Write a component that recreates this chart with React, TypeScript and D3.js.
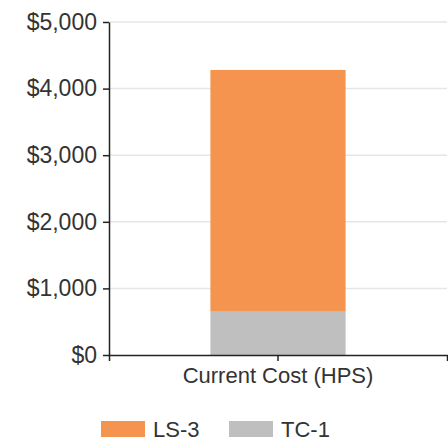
import * as d3 from 'd3';
import React, { useEffect, useRef } from 'react';

const categories = ['Current Cost (HPS)'];
const seriesNames = ['TC-1', 'LS-3'];
const tc1Values = [650];
const ls3Values = [3630];
const yTicks = [0, 1000, 2000, 3000, 4000, 5000];
const legendOrder = ['LS-3', 'TC-1'];

const colors: Record<string, string> = { 'LS-3': '#f4944f', 'TC-1': '#bfbfbf' };

const W = 448;
const H = 442;

const App: React.FC = () => {
  const ref = useRef<SVGSVGElement | null>(null);

  useEffect(() => {
    const svg = d3.select(ref.current);
    svg.selectAll('*').remove();
    const margin = { top: 22, right: 1, bottom: 87, left: 109 };
    const innerW = W - margin.left - margin.right;
    const innerH = H - margin.top - margin.bottom;

    const rows = categories.map((c, i) => ({ cat: c, 'TC-1': tc1Values[i], 'LS-3': ls3Values[i] }));
    const stacked = d3.stack<any>().keys(seriesNames)(rows);

    const x = d3.scaleBand().domain(categories).range([0, innerW]).paddingInner(0).paddingOuter(0.75);
    const xAxisScale = d3.scaleBand().domain(categories).range([0, innerW]).padding(0);
    const y = d3.scaleLinear().domain([0, 5000]).range([innerH, 0]);

    const g = svg.append('g').attr('transform', `translate(${margin.left},${margin.top})`);

    // gridlines
    g.append('g')
      .selectAll('line')
      .data(yTicks.slice(1))
      .enter()
      .append('line')
      .attr('x1', 0)
      .attr('x2', innerW)
      .attr('y1', d => y(d))
      .attr('y2', d => y(d))
      .attr('stroke', '#e6e6e6')
      .attr('stroke-width', 1.5);

    // bars
    g.append('g')
      .selectAll('g')
      .data(stacked)
      .enter()
      .append('g')
      .attr('fill', d => colors[d.key])
      .selectAll('rect')
      .data(d => d)
      .enter()
      .append('rect')
      .attr('x', d => x(d.data.cat) ?? 0)
      .attr('width', x.bandwidth())
      .attr('y', d => y(d[1]))
      .attr('height', d => y(d[0]) - y(d[1]));

    const yAxis = g.append('g').call(
      d3.axisLeft(y).tickValues(yTicks).tickSize(6).tickSizeOuter(0).tickPadding(6)
        .tickFormat(d => '$' + d3.format(',')(d as number))
    );
    yAxis.selectAll('text')
      .attr('font-family', '"Liberation Sans", Arial, sans-serif')
      .attr('font-size', 23)
      .attr('fill', '#333');
    yAxis.selectAll('line, path').attr('stroke', '#222').attr('stroke-width', 1.5);

    const xAxis = g.append('g')
      .attr('transform', `translate(0,${innerH})`)
      .call(d3.axisBottom(xAxisScale).tickSize(6).tickSizeOuter(6).tickPadding(6));
    xAxis.selectAll('text')
      .attr('font-family', '"Liberation Sans", Arial, sans-serif')
      .attr('font-size', 22)
      .attr('fill', '#333');
    xAxis.selectAll('line, path').attr('stroke', '#222').attr('stroke-width', 1.5);

    // legend
    const legendX = [101, 229];
    const leg = svg.append('g');
    legendOrder.forEach((name, i) => {
      leg.append('rect')
        .attr('x', legendX[i])
        .attr('y', 421)
        .attr('width', 44)
        .attr('height', 16)
        .attr('fill', colors[name]);
      leg.append('text')
        .attr('x', legendX[i] + 52)
        .attr('y', 437)
        .attr('font-family', '"Liberation Sans", Arial, sans-serif')
        .attr('font-size', 22)
        .attr('fill', '#333')
        .text(name);
    });
  }, []);

  return (
    <div style={{ position: 'absolute', left: 0, top: 0 }}>
      <svg ref={ref} width={W} height={H} style={{ display: 'block' }} />
    </div>
  );
};

export default App;
